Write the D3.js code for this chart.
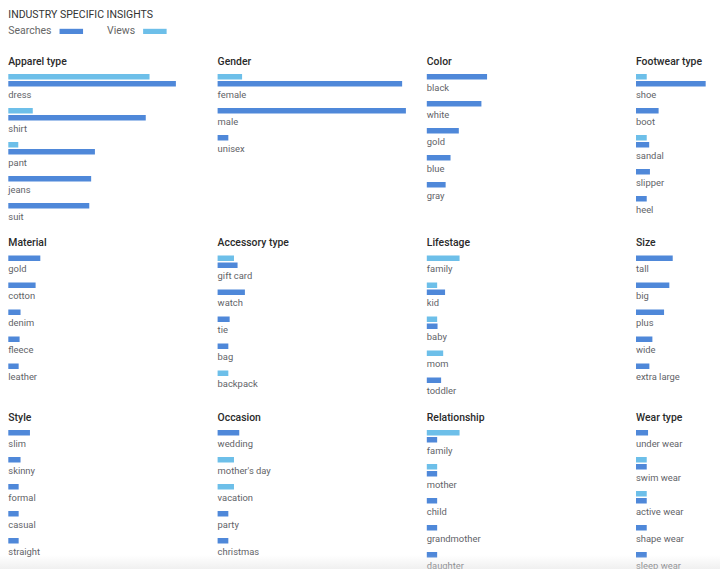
<!DOCTYPE html>
<html>
<head>
<meta charset="utf-8">
<script src="https://cdn.jsdelivr.net/npm/d3@7/dist/d3.min.js"></script>
<style>
  html, body { margin: 0; padding: 0; background: #fff; overflow: hidden; }
  #chart { position: relative; width: 720px; height: 569px; }
  #fade {
    position: absolute; left: 0; top: 555px; width: 720px; height: 14px;
    background: linear-gradient(to bottom, rgba(225,225,225,0), rgba(225,225,225,0.5));
    pointer-events: none;
  }
  svg text { font-family: Roboto, "Noto Sans", sans-serif; }
</style>
</head>
<body>
<div id="chart"><div id="fade"></div></div>
<script>
// panels, left to right, top to bottom
const panelTitles = [
    "Apparel type", "Gender", "Color", "Footwear type",
    "Material", "Accessory type", "Lifestage", "Size",
    "Style", "Occasion", "Relationship", "Wear type"
];

const panelLabels = [
    ["dress", "shirt", "pant", "jeans", "suit"],
    ["female", "male", "unisex"],
    ["black", "white", "gold", "blue", "gray"],
    ["shoe", "boot", "sandal", "slipper", "heel"],
    ["gold", "cotton", "denim", "fleece", "leather"],
    ["gift card", "watch", "tie", "bag", "backpack"],
    ["family", "kid", "baby", "mom", "toddler"],
    ["tall", "big", "plus", "wide", "extra large"],
    ["slim", "skinny", "formal", "casual", "straight"],
    ["wedding", "mother's day", "vacation", "party", "christmas"],
    ["family", "mother", "child", "grandmother", "daughter"],
    ["under wear", "swim wear", "active wear", "shape wear", "sleep wear"]
];

// relative interest, 0 = no bar
const searchValues = [
    [89, 73, 46, 44, 43],
    [98, 100, 5.7],
    [32, 29, 17, 12.6, 10],
    [37, 12, 7, 7.4, 5.7],
    [17, 14.5, 6.5, 6, 5.5],
    [10.6, 14.5, 6.4, 5.7, 0],
    [0, 9.7, 5.7, 0, 7.6],
    [19.5, 17.7, 14.9, 8.7, 7.1],
    [11.5, 6.5, 5.5, 5.5, 5.5],
    [11.5, 0, 0, 5.7, 5.7],
    [5.5, 5.5, 5.5, 5.5, 5.5],
    [6.4, 5.7, 5.7, 5.7, 5.7]
];

const viewValues = [
    [75, 13, 5.3, 0, 0],
    [13, 0, 0],
    [0, 0, 0, 0, 0],
    [5.7, 0, 5.7, 0, 0],
    [0, 0, 0, 0, 0],
    [8.7, 0, 0, 0, 5.7],
    [17.4, 5.5, 5.5, 8.7, 0],
    [0, 0, 0, 0, 0],
    [0, 0, 0, 0, 0],
    [0, 8.7, 8.7, 0, 0],
    [17.4, 5.5, 0, 0, 0],
    [0, 5.7, 5.7, 0, 0]
];

const seriesNames = ["Searches", "Views"];
const seriesColors = { Searches: "#4f88d9", Views: "#6dbfe9" };

const width = 720, height = 569;
const colX = [8.3, 217.6, 426.8, 636];
const barH = 5.5, barStep = 7, itemStep = 27, labelDy = 16.5;

const svg = d3.select("#chart").insert("svg", "#fade")
    .attr("width", width)
    .attr("height", height)
    .style("display", "block");

// one scale for every panel
const x = d3.scaleLinear().domain([0, 100]).range([0, 188.3]);

// header + legend
svg.append("text")
    .attr("x", 8.3).attr("y", 18.3)
    .attr("font-size", 10.5).attr("fill", "#333")
    .text("INDUSTRY SPECIFIC INSIGHTS");

const legendX = [8.3, 107];
seriesNames.forEach((s, i) => {
    const t = svg.append("text")
        .attr("x", legendX[i]).attr("y", 34.2)
        .attr("font-size", 10.5).attr("fill", "#666")
        .text(s);
    const w = t.node().getComputedTextLength();
    svg.append("rect")
        .attr("x", legendX[i] + w + 8).attr("y", 28.8)
        .attr("width", 23.5).attr("height", 5.2)
        .attr("fill", seriesColors[s]);
});

// panels, flowed row by row
let titleY = 64.5;
for (let row = 0; row < 3; row++) {
    let rowEnd = titleY;
    for (let col = 0; col < 4; col++) {
        const p = row * 4 + col;
        const g = svg.append("g").attr("transform", `translate(${colX[col]},0)`);

        g.append("text")
            .attr("x", 0).attr("y", titleY)
            .attr("font-size", 10.4).attr("font-weight", 500).attr("fill", "#2a2a2a")
            .text(panelTitles[p]);

        let y = titleY + 9.5;
        panelLabels[p].forEach((label, i) => {
            const bars = [];
            if (viewValues[p][i] > 0) bars.push({ s: "Views", v: viewValues[p][i] });
            if (searchValues[p][i] > 0) bars.push({ s: "Searches", v: searchValues[p][i] });

            let last = y;
            bars.forEach((b, j) => {
                last = y + j * barStep;
                g.append("rect")
                    .attr("x", 0).attr("y", last)
                    .attr("width", x(b.v)).attr("height", barH)
                    .attr("fill", seriesColors[b.s]);
            });

            g.append("text")
                .attr("x", 0).attr("y", last + labelDy)
                .attr("font-size", 9.4).attr("fill", "#5f6368")
                .text(label);

            rowEnd = Math.max(rowEnd, last + labelDy);
            y = last + itemStep;
        });
    }
    titleY = rowEnd + 26.5;
}
</script>
</body>
</html>
